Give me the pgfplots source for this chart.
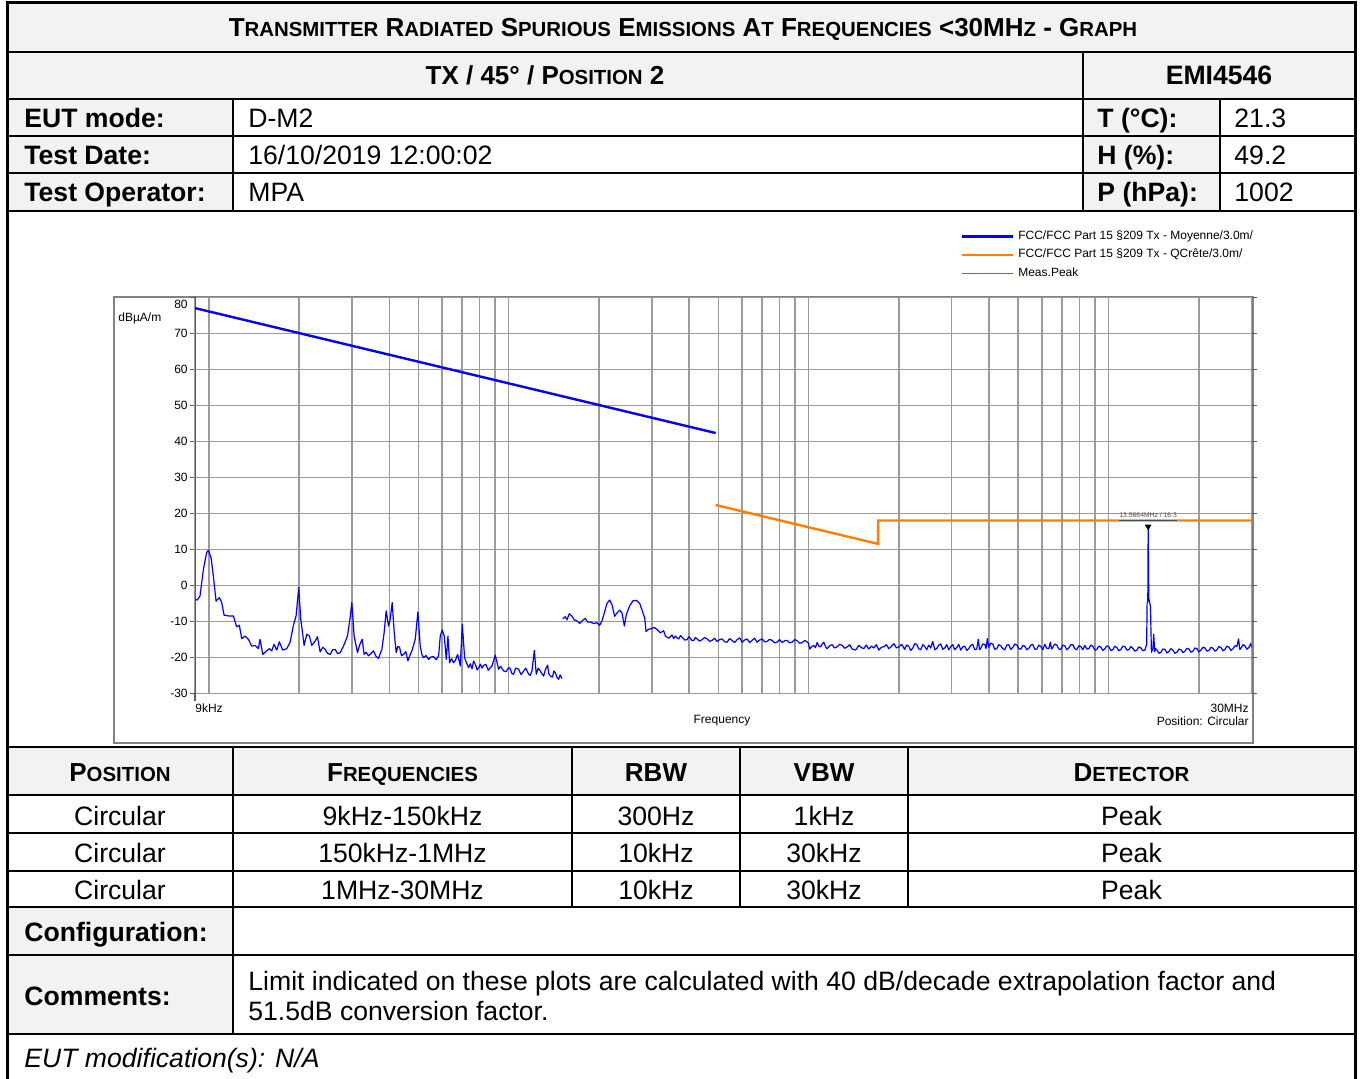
\documentclass[border=0pt]{standalone}
\usepackage{fontspec}
\setmainfont{Liberation Sans}
\usepackage{pgfplots}
\pgfplotsset{compat=1.18}
\definecolor{gbg}{RGB}{242,242,242}
\definecolor{gridc}{RGB}{155,155,155}
\definecolor{axc}{RGB}{90,90,90}
\definecolor{lorange}{RGB}{255,128,0}
\definecolor{lblue}{RGB}{0,0,255}
\definecolor{mpk}{RGB}{90,90,255}
\definecolor{framec}{RGB}{130,130,130}
\newcommand\tf{\fontsize{13.3}{16}\selectfont}
\newcommand\scb{\fontsize{13}{15}\selectfont}
\newcommand\scs{\fontsize{10.2}{12}\selectfont}
\newcommand\cf{\fontsize{6}{7}\selectfont}
\begin{document}
\begin{tikzpicture}
\useasboundingbox (0pt,0pt) rectangle (681.5pt,-539.5pt);
\begin{scope}[x=0.5pt,y=-0.5pt]
\fill[white] (0,0) rectangle (1363,1079);
\fill[gbg] (7,3) rectangle (1355,99);
\fill[gbg] (7,99) rectangle (233,211);
\fill[gbg] (1083,99) rectangle (1220,211);
\fill[gbg] (7,747) rectangle (1355,795);
\fill[gbg] (7,907) rectangle (233,1034);
\draw[framec, line width=0.9pt] (114,297) rectangle (1253,743);
\end{scope}
\begin{axis}[
 at={(97.5pt,-346.65pt)}, anchor=south west,
 width=528.3pt, height=198pt, scale only axis,
 xmode=log, xmin=9, xmax=30000, ymin=-30, ymax=80,
 xtick={10,100,1000,10000},
 minor xtick={20,30,40,50,60,70,80,90,200,300,400,500,600,700,800,900,2000,3000,4000,5000,6000,7000,8000,9000,20000},
 xticklabels={},
 xtick style={draw=none},
 minor tick length=0pt,
 ytick={-30,-20,-10,0,10,20,30,40,50,60,70},
 yticklabels={-30,-20,-10,0,10,20,30,40,50,60,70},
 extra y ticks={80}, extra y tick labels={80},
 extra y tick style={yticklabel style={anchor=north east}},
 ytick style={draw=axc, line width=0.6pt},
 tick align=outside, major tick length=2.5pt,
 yticklabel style={font=\cf, inner sep=1pt},
 grid=both,
 major grid style={draw=gridc, line width=0.8pt},
 minor grid style={draw=gridc, line width=0.8pt},
 axis line style={draw=gridc, line width=0.8pt},
 legend style={draw=none, fill=none, at={(0.7245,1.1725)}, anchor=north west, font=\cf, inner sep=0pt, row sep=2.2pt, column sep=1.4pt, nodes={inner sep=0.6pt}},
 legend cell align=left,
 legend image code/.code={\draw[#1] (0pt,0pt) -- (25.5pt,0pt);},
]
\addlegendimage{draw=lblue, line width=1.2pt}
\addlegendentry{FCC/FCC Part 15 §209 Tx - Moyenne/3.0m/}
\addlegendimage{draw=lorange, line width=1.2pt}
\addlegendentry{FCC/FCC Part 15 §209 Tx - QCrête/3.0m/}
\addlegendimage{draw=mpk, line width=0.8pt}
\addlegendentry{Meas.Peak}
\draw[axc, line width=1pt] (rel axis cs:0,0) -- (rel axis cs:0,1);
\addplot[forget plot, lblue, line width=1.2pt] coordinates {(9,77.0) (490,42.3)};
\addplot[forget plot, lorange, line width=1.2pt] coordinates {(490,22.3) (1705,11.5) (1705,18.0) (30000,18.0)};
\addplot[forget plot, color=lblue, line width=0.6pt, line join=round] coordinates {
(9.00,-3.9) (9.16,-4.1) (9.35,-3.0) (9.60,4.4) (9.84,9.1) (9.97,9.7) (10.18,7.7) (10.36,2.6) (10.58,-4.4) (10.85,-3.4) (11.05,-4.8) (11.25,-8.3) (11.63,-8.5) (12.08,-8.5) (12.39,-11.5) (12.65,-11.1) (12.88,-14.8) (13.21,-14.1) (13.56,-15.0) (13.91,-16.9) (14.27,-16.7) (14.64,-17.6) (14.83,-15.0) (15.14,-19.2) (15.61,-18.2) (15.93,-17.6) (16.22,-18.2) (16.51,-16.4) (16.86,-18.0) (17.20,-15.7) (17.65,-18.0) (18.20,-17.6) (18.67,-15.9) (19.16,-11.1) (19.56,-8.5) (19.96,-0.6) (20.27,-9.4) (20.80,-16.7) (21.23,-13.6) (21.67,-14.1) (22.06,-16.7) (22.63,-15.5) (23.04,-14.3) (23.52,-18.5) (24.0,-17.2) (24.44,-17.8) (24.9,-18.9) (25.40,-19.2) (25.9,-17.9) (26.39,-17.8) (26.9,-19.0) (27.43,-18.7) (28.14,-16.9) (29.01,-14.1) (29.61,-9.0) (30.00,-4.8) (30.54,-14.1) (31.33,-18.7) (31.82,-16.7) (32.48,-15.0) (32.98,-19.2) (33.5,-18.6) (34.10,-19.6) (34.8,-18.9) (35.43,-18.2) (36.1,-19.7) (36.82,-20.3) (37.78,-17.8) (38.46,-13.1) (39.06,-7.1) (39.77,-11.3) (40.28,-9.4) (40.90,-4.8) (41.54,-13.1) (42.18,-18.7) (42.7,-17.0) (43.28,-17.2) (43.9,-19.5) (44.63,-19.2) (45.4,-18.4) (46.14,-21.0) (46.9,-19.4) (47.58,-18.2) (48.81,-15.0) (49.82,-7.4) (50.72,-16.9) (51.4,-19.3) (52.04,-20.1) (53.0,-19.5) (54.08,-20.6) (55.1,-19.9) (56.20,-19.8) (57.3,-20.7) (58.40,-19.6) (59.15,-14.1) (60.07,-12.4) (61.00,-14.1) (61.95,-20.6) (62.75,-14.1) (63.55,-21.5) (64.5,-20.4) (65.54,-21.5) (66.5,-20.8) (67.58,-19.2) (68.98,-22.4) (70.05,-10.9) (71.32,-20.1) (72.4,-21.6) (73.55,-22.9) (74.5,-21.8) (75.5,-23.2) (76.43,-21.0) (77.5,-22.0) (78.5,-23.5) (79.42,-22.9) (80.5,-21.9) (81.5,-23.0) (82.53,-22.2) (84.0,-22.0) (85.5,-23.6) (86.83,-22.9) (88.0,-22.4) (90.23,-19.4) (92.57,-23.3) (94.0,-22.5) (96.20,-23.8) (98.0,-24.0) (99.97,-22.9) (101.0,-23.0) (102.5,-24.5) (103.9,-24.7) (105.5,-23.0) (107.9,-23.3) (110.0,-24.8) (112.2,-23.8) (114.0,-23.0) (116.6,-24.7) (118.0,-25.0) (119.6,-23.8) (121.8,-18.1) (123.6,-24.7) (125.5,-23.0) (127.5,-23.8) (129.0,-24.5) (130.8,-25.2) (132.5,-23.5) (134.9,-22.2) (136.0,-24.5) (137.7,-25.2) (140.0,-25.5) (141.5,-23.8) (143.1,-24.3) (145.0,-25.6) (146.8,-26.1) (148.5,-24.9) (150.6,-25.9)
};
\addplot[forget plot, color=lblue, line width=0.6pt, line join=round] coordinates {
(151.5,-9.3) (154.5,-8.7) (156.5,-9.6) (159.3,-7.9) (162.6,-8.6) (165.5,-9.6) (169.0,-9.9) (172.5,-10.6) (176.5,-9.7) (180.1,-9.2) (183.4,-10.2) (187.2,-10.2) (192.0,-10.6) (197.0,-10.4) (201.1,-11.1) (204.7,-9.9) (208.4,-7.7) (212.7,-5.0) (217.1,-4.1) (221.1,-5.4) (225.6,-8.6) (229.7,-7.7) (234.5,-6.9) (238.7,-7.7) (243.1,-11.3) (246.8,-8.1) (253.2,-5.7) (259.8,-4.3) (266.5,-4.2) (273.4,-5.0) (280.5,-7.7) (284.1,-9.0) (287.1,-12.8) (293.0,-12.2) (300.6,-12.0) (306.0,-11.7) (312.4,-12.3) (320.4,-13.2) (328.7,-12.6) (333.0,-14.1) (341.6,-14.7) (350.5,-13.8) (355.0,-14.8) (359.6,-14.1) (364.0,-14.6) (369.0,-14.9) (373.8,-14.0) (378.6,-14.4) (386.0,-15.2) (393.4,-15.1) (398.5,-14.3) (403.6,-14.7) (409.0,-15.4) (414.1,-15.3) (419.5,-14.5) (424.8,-14.9) (433.0,-15.5) (441.5,-15.1) (450.0,-14.5) (458.8,-14.9) (467.8,-15.6) (476.8,-15.3) (486.0,-14.7) (495.5,-15.6) (505.0,-15.1) (514.9,-14.9) (525.0,-15.7) (534.9,-15.8) (545.0,-14.8) (555.8,-15.3) (566.5,-15.9) (577.6,-15.1) (589.0,-14.6) (600.2,-15.8) (612.0,-15.2) (623.8,-14.9) (636.0,-15.9) (648.2,-15.3) (660.5,-14.7) (673.5,-15.8) (686.5,-15.2) (700.0,-14.9) (713.5,-15.7) (727.3,-15.6) (741.5,-15.0) (755.9,-15.3) (770.5,-16.0) (785.5,-15.8) (800.5,-15.1) (816.2,-15.9) (832.0,-15.4) (848.2,-15.3) (864.5,-16.0) (881.3,-15.8) (898.5,-15.1) (915.8,-15.4) (933.5,-16.1) (951.7,-15.9) (972.0,-15.3) (994.0,-15.9) (1000,-16.2)
(1009,-17.7) (1025,-17.0) (1041,-16.7) (1054,-17.3) (1068,-15.9) (1082,-16.9) (1096,-17.1) (1110,-16.3) (1124,-15.8) (1138,-17.0) (1153,-17.6) (1175,-16.8) (1198,-16.5) (1220,-17.4) (1245,-17.1) (1270,-16.4) (1294,-16.7) (1320,-17.5) (1345,-17.1) (1371,-16.5) (1397,-17.7) (1434,-18.0) (1471,-16.7) (1500,-17.3) (1528,-17.6) (1558,-16.6) (1588,-17.7) (1620,-16.9) (1650,-17.4) (1682,-16.5) (1715,-18.0) (1748,-17.2) (1782,-17.1) (1817,-16.5) (1852,-17.6) (1888,-17.0) (1925,-16.2) (1962,-17.4) (2000,-17.1) (2045,-16.4)
(2091,-17.8) (2123,-16.6) (2156,-16.9) (2190,-18.1) (2224,-17.5) (2258,-16.2) (2293,-16.4) (2329,-17.6) (2365,-17.9) (2402,-16.5) (2439,-17.0) (2477,-17.9) (2515,-16.6) (2554,-17.4) (2594,-15.6) (2634,-17.9) (2674,-17.6) (2716,-16.6) (2758,-16.3) (2801,-17.8) (2844,-17.4) (2888,-16.5) (2933,-17.9) (2978,-17.0) (3024,-16.5) (3071,-17.9) (3119,-17.3) (3167,-16.4) (3216,-18.0) (3266,-17.1) (3317,-16.9) (3368,-18.1) (3420,-17.6) (3473,-16.7) (3527,-16.4) (3582,-17.9) (3637,-17.7) (3681,-15.0) (3715,-17.9) (3751,-17.5) (3809,-16.3) (3867,-16.4) (3905,-17.6) (3944,-14.8) (3988,-17.2) (4050,-16.1) (4112,-16.3) (4176,-17.8) (4241,-17.6) (4307,-16.5) (4373,-16.8) (4441,-17.6) (4510,-17.9) (4580,-16.6) (4650,-16.5) (4722,-17.8) (4796,-17.3) (4870,-16.3) (4945,-16.6) (5022,-17.6) (5100,-17.8) (5179,-16.7) (5258,-16.9) (5340,-17.9) (5423,-17.5) (5507,-16.6) (5592,-16.4) (5679,-17.8) (5767,-17.7) (5856,-16.6) (5946,-17.0) (6038,-17.9) (6132,-16.4) (6227,-17.5) (6323,-17.6) (6400,-15.8) (6460,-17.7) (6521,-17.2) (6622,-16.3) (6724,-16.6) (6829,-17.7) (6934,-17.8) (7041,-16.6) (7150,-16.8) (7261,-17.9) (7373,-17.4) (7487,-16.5) (7603,-16.5) (7721,-17.6) (7841,-17.9) (7962,-16.8) (8085,-17.0) (8211,-17.9) (8338,-16.7) (8467,-17.7) (8598,-17.6) (8731,-16.6) (8866,-16.9) (9004,-18.0) (9143,-17.8) (9285,-16.9) (9429,-17.2) (9575,-18.1) (9723,-17.6) (9874,-16.8) (10026,-17.1) (10181,-18.1) (10339,-17.9) (10499,-16.9) (10662,-17.3) (10827,-18.2) (10995,-17.8) (11165,-16.9) (11338,-17.0) (11514,-18.0) (11692,-17.9) (11873,-17.0) (12057,-17.5) (12244,-18.3) (12433,-18.0) (12626,-17.1) (12821,-17.4) (13020,-18.2) (13221,-18.0)
(13300,-17.2) (13400,-16.6) (13450,-5.0) (13520,-4.6) (13560,16.3) (13620,-3.5) (13800,-5.9) (13900,-18.6) (14059,-17.6) (14150,-13.6) (14250,-18.4) (14370,-17.6) (14498,-17.9) (14722,-18.9) (14951,-18.6) (15183,-17.7) (15418,-17.8) (15657,-18.8) (15899,-18.4) (16145,-17.6) (16395,-18.0) (16649,-18.9) (16907,-18.6) (17169,-17.7) (17435,-17.9) (17705,-18.7) (17978,-18.3) (18257,-17.5) (18540,-17.7) (18827,-18.6) (19118,-18.3) (19414,-17.4) (19715,-17.6) (20020,-18.5) (20330,-18.0) (20646,-17.2) (20965,-17.4) (21290,-18.3) (21619,-18.1) (21954,-17.2) (22294,-17.5) (22640,-18.3) (22990,-17.9) (23346,-17.0) (23708,-17.3) (24075,-18.2) (24447,-17.8) (24826,-16.9) (25210,-17.2) (25600,-18.1) (25997,-17.6) (26400,-16.8) (26809,-17.0) (27130,-14.9) (27400,-17.8) (27646,-17.5) (28070,-16.5) (28508,-16.8) (28950,-17.8) (29398,-17.2) (29800,-16.2) (30000,-17.3)
};
\addplot[forget plot, only marks, mark=triangle*, mark size=1.5pt, mark options={rotate=180, fill=black, draw=black}] coordinates {(13560,16.3)};
\node[font=\fontsize{3.4}{4}\selectfont, text=black!70, anchor=south, inner sep=0.3pt] at (axis cs:13560,17.3) {\underline{13.5664MHz / 16.3}};
\end{axis}
\begin{scope}[x=0.5pt,y=-0.5pt, every node/.style={inner sep=0pt}]
% chart annotations
\draw[axc, line width=0.8pt] (195,693) -- (195,701);
\node[font=\cf, anchor=west] at (195,708) {9kHz};
\node[font=\cf, anchor=east] at (1249,708) {30MHz};
\node[font=\cf] at (722,721) {Frequency};
\node[font=\cf, anchor=east] at (1249,721) {Position: Circular};
\node[font=\cf, anchor=west] at (118,318) {dBµA/m};
% table lines
\begin{scope}[line width=1.1pt]
\foreach \yy in {52,99,136,173,211,747,795,833,871,907,955,1034} \draw (7,\yy) -- (1355,\yy);
\draw (1083,52) -- (1083,211);
\draw (233,99) -- (233,211);
\draw (1220,99) -- (1220,211);
\draw (233,747) -- (233,1034);
\foreach \xx in {572,740,908} \draw (\xx,747) -- (\xx,907);
\end{scope}
\draw[line width=1.5pt] (7,1085) -- (7,3) -- (1355,3) -- (1355,1085);
% texts
\node[font=\bfseries\scb, anchor=base] at (683,37) {T{\scs RANSMITTER} R{\scs ADIATED} S{\scs PURIOUS} E{\scs MISSIONS} A{\scs T} F{\scs REQUENCIES} <30MH{\scs Z} - G{\scs RAPH}};
\node[font=\bfseries\scb, anchor=base] at (545,85) {TX / 45° / P{\scs OSITION} 2};
\node[font=\bfseries\tf, anchor=base] at (1219,85) {EMI4546};
\node[font=\bfseries\tf, anchor=base west] at (24,127.5) {EUT mode:};
\node[font=\bfseries\tf, anchor=base west] at (24,164.5) {Test Date:};
\node[font=\bfseries\tf, anchor=base west] at (24,201.5) {Test Operator:};
\node[font=\tf, anchor=base west] at (248,127.5) {D-M2};
\node[font=\tf, anchor=base west] at (248,164.5) {16/10/2019 12:00:02};
\node[font=\tf, anchor=base west] at (248,201.5) {MPA};
\node[font=\bfseries\tf, anchor=base west] at (1097,127.5) {T (°C):};
\node[font=\bfseries\tf, anchor=base west] at (1097,164.5) {H (\%):};
\node[font=\bfseries\tf, anchor=base west] at (1097,201.5) {P (hPa):};
\node[font=\tf, anchor=base west] at (1234,127.5) {21.3};
\node[font=\tf, anchor=base west] at (1234,164.5) {49.2};
\node[font=\tf, anchor=base west] at (1234,201.5) {1002};
\node[font=\bfseries\scb, anchor=base] at (120,781) {P{\scs OSITION}};
\node[font=\bfseries\scb, anchor=base] at (402.5,781) {F{\scs REQUENCIES}};
\node[font=\bfseries\scb, anchor=base] at (656,781) {RBW};
\node[font=\bfseries\scb, anchor=base] at (824,781) {VBW};
\node[font=\bfseries\scb, anchor=base] at (1131.5,781) {D{\scs ETECTOR}};
\foreach \yy/\fr/\rb/\vb in {825.5/9kHz-150kHz/300Hz/1kHz, 862.5/150kHz-1MHz/10kHz/30kHz, 899.5/1MHz-30MHz/10kHz/30kHz} {
  \node[font=\tf, anchor=base] at (120,\yy) {Circular};
  \node[font=\tf, anchor=base] at (402.5,\yy) {\fr};
  \node[font=\tf, anchor=base] at (656,\yy) {\rb};
  \node[font=\tf, anchor=base] at (824,\yy) {\vb};
  \node[font=\tf, anchor=base] at (1131.5,\yy) {Peak};
}
\node[font=\bfseries\tf, anchor=base west] at (24,941) {Configuration:};
\node[font=\bfseries\tf, anchor=base west] at (24,1005.5) {Comments:};
\node[font=\tf, anchor=base west] at (248,990.5) {Limit indicated on these plots are calculated with 40 dB/decade extrapolation factor and};
\node[font=\tf, anchor=base west] at (248,1020.5) {51.5dB conversion factor.};
\node[font=\itshape\tf, anchor=base west] at (24,1067.5) {EUT modification(s): N/A};
\end{scope}
\end{tikzpicture}
\end{document}
